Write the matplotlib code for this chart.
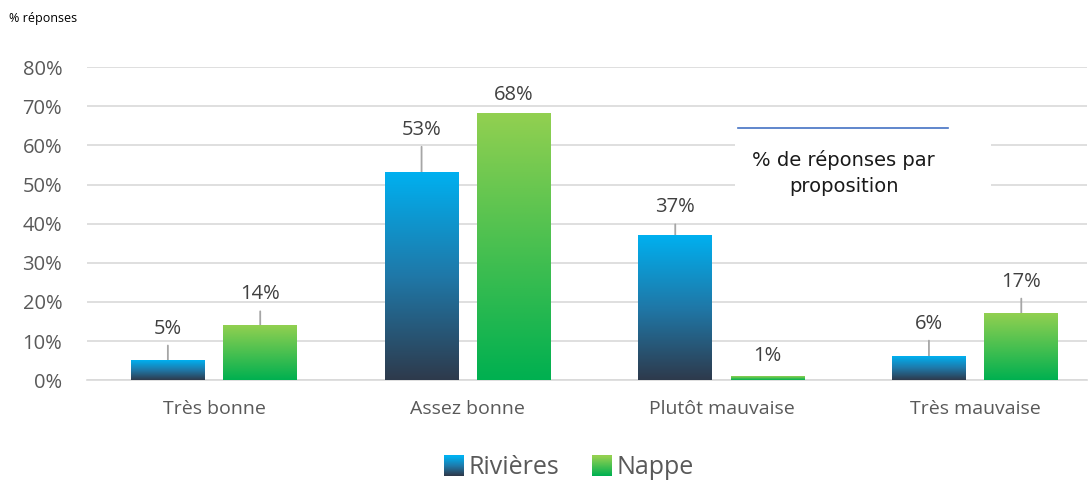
import numpy as np
import matplotlib
matplotlib.use('Agg')
import matplotlib.pyplot as plt
from matplotlib.colors import LinearSegmentedColormap
from matplotlib.legend_handler import HandlerBase
from matplotlib.patches import Rectangle

## Donnees
categories = ['Très bonne', 'Assez bonne', 'Plutôt mauvaise', 'Très mauvaise']
series = ['Rivières', 'Nappe']
rivieres = [5, 53, 37, 6]
nappe = [14, 68, 1, 17]
yticks = [0, 10, 20, 30, 40, 50, 60, 70, 80]

# decalage des etiquettes au-dessus des barres (pixels), comme dans le graphique d'origine
dec_riv = [32, 43, 28, 33]
dec_nap = [31, 19, 20, 32]

plt.rcParams['font.family'] = ['Open Sans', 'DejaVu Sans']

# degrades (bas -> haut)
cm_bleu = LinearSegmentedColormap.from_list('bleu', ['#2E3A4C', '#1F78A8', '#00B0F0'])
cm_vert = LinearSegmentedColormap.from_list('vert', ['#00B050', '#92D050'])
grad = np.linspace(0, 1, 256).reshape(-1, 1)

fig = plt.figure(figsize=(10.9, 4.8), dpi=100)
ax = fig.add_axes([0.080, 0.208, 0.917, 0.652])

x = np.arange(len(categories))
w = 0.29
dec = 0.182

for vals, decs, off, cm in [(rivieres, dec_riv, -dec, cm_bleu), (nappe, dec_nap, dec, cm_vert)]:
    bars = ax.bar(x + off, vals, width=w, color='none', zorder=3)
    for b, v, d in zip(bars, vals, decs):
        x0, y0 = b.get_x(), b.get_y()
        ax.imshow(grad, cmap=cm, origin='lower', aspect='auto', zorder=3,
                  extent=(x0, x0 + b.get_width(), y0, y0 + b.get_height()))
        xc = x0 + b.get_width() / 2
        fleche = None
        if d > 25:  # ligne de rappel
            fleche = dict(arrowstyle='-', color='#A6A6A6', lw=1.3, shrinkA=3, shrinkB=0)
        ax.annotate(f'{v}%', (xc, v), xytext=(0, d), textcoords='offset pixels',
                    ha='center', va='center', fontsize=14.5, color='#404040',
                    arrowprops=fleche, zorder=2)

ax.set_xlim(-0.5, 3.44)
ax.set_ylim(0, 80)
ax.set_yticks(yticks)
ax.set_yticklabels([f'{t}%' for t in yticks])
ax.set_xticks(x)
ax.set_xticklabels(categories)
ax.tick_params(axis='both', length=0, colors='#595959')
ax.tick_params(axis='y', pad=18, labelsize=14.5)
ax.tick_params(axis='x', pad=14, labelsize=14)
ax.grid(axis='y', color='#D9D9D9', lw=1.2, zorder=0)
ax.set_axisbelow(True)
for s in ['top', 'right', 'left']:
    ax.spines[s].set_visible(False)
ax.spines['bottom'].set_color('#D9D9D9')
ax.spines['bottom'].set_linewidth(1.2)

# titre d'axe
fig.text(0.008, 0.962, '% réponses', fontsize=9, color='#000000', ha='left', va='center')

# encadre
fig.patches.append(Rectangle((0.674, 0.555), 0.235, 0.198, transform=fig.transFigure,
                             facecolor='white', edgecolor='none', zorder=4))
fig.lines.append(plt.Line2D([0.677, 0.870], [0.733, 0.733], transform=fig.transFigure,
                            color='#4472C4', lw=1.2, zorder=5))
fig.text(0.774, 0.64, '% de réponses par\nproposition', fontsize=14, ha='center', va='center',
         family=['Liberation Sans Narrow', 'DejaVu Sans'], linespacing=1.5, color='#1A1A1A', zorder=6)


# legende avec carres degrades
class HandlerGrad(HandlerBase):
    def __init__(self, cm):
        super().__init__()
        self.cm = cm

    def create_artists(self, legend, orig_handle, xdescent, ydescent, width, height, fontsize, trans):
        n = 20
        s = height * 1.15
        x0 = -xdescent + width - s
        y0 = -ydescent - 0.1 * height
        arts = []
        for k in range(n):
            r = Rectangle((x0, y0 + k * s / n), s, s / n + 0.3, facecolor=self.cm(k / (n - 1)),
                          edgecolor='none', transform=trans)
            arts.append(r)
        return arts


h1 = Rectangle((0, 0), 1, 1)
h2 = Rectangle((0, 0), 1, 1)
fig.legend([h1, h2], series, handler_map={h1: HandlerGrad(cm_bleu), h2: HandlerGrad(cm_vert)},
           loc='center', bbox_to_anchor=(0.522, 0.026), ncol=2, frameon=False, fontsize=18,
           labelcolor='#595959', handlelength=0.8, handletextpad=0.2, columnspacing=1.3)

fig.savefig('out.png', dpi=100)
